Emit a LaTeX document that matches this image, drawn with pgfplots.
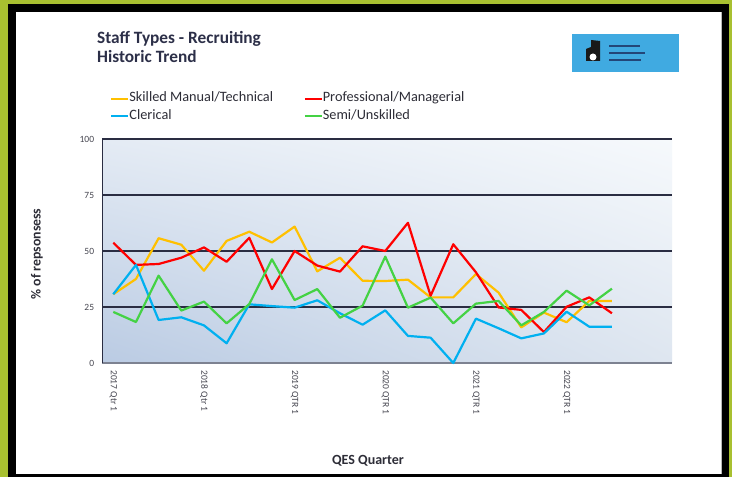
\documentclass[border=0pt]{standalone}
\usepackage{pgfplots}
\pgfplotsset{compat=1.18}
\usetikzlibrary{shadings}
\usepackage{fontspec}
\setmainfont{Carlito}
\definecolor{olivebar}{RGB}{168,192,48}
\definecolor{navy}{RGB}{42,45,66}
\definecolor{titlecol}{RGB}{44,47,72}
\definecolor{txt}{RGB}{45,45,55}
\definecolor{ticktxt}{RGB}{70,70,80}
\definecolor{cyel}{RGB}{255,192,0}
\definecolor{cred}{RGB}{255,0,0}
\definecolor{cblue}{RGB}{0,176,240}
\definecolor{cgreen}{RGB}{68,210,68}
\definecolor{logoblue}{RGB}{64,170,225}
\definecolor{logotext}{RGB}{35,70,120}
\definecolor{bottomline}{RGB}{125,130,145}
\definecolor{bgll}{RGB}{186,203,227}
\definecolor{bgul}{RGB}{228,235,244}
\definecolor{bgur}{RGB}{246,249,252}
\definecolor{bglr}{RGB}{222,230,240}

\pgfplotstableread{
x skilled prof clerical semi
0 30.7 53.7 30.7 22.8
1 37.5 43.8 43.8 18.3
2 55.7 44.2 19.2 39.0
3 52.8 47.0 20.4 23.4
4 41.2 51.6 16.8 27.4
5 54.5 45.2 8.8 17.7
6 58.6 55.9 26.2 26.3
7 53.8 33.0 25.4 46.3
8 60.9 50.0 24.7 28.1
9 40.9 43.5 28.0 33.0
10 47.0 40.8 22.2 20.2
11 36.7 52.1 17.1 25.6
12 36.6 50.0 23.5 47.5
13 37.2 62.6 12.1 24.7
14 29.3 30.0 11.3 29.2
15 29.3 53.0 0.0 17.7
16 39.7 40.5 19.8 26.5
17 31.4 24.8 15.5 27.7
18 15.9 23.7 11.0 16.8
19 22.5 13.8 13.2 22.8
20 18.2 25.1 22.9 32.3
21 27.7 29.3 16.2 25.7
22 27.7 22.2 16.2 33.2
}\datatable

\begin{document}
\begin{tikzpicture}[x=1pt,y=1pt]
\fill[olivebar] (0,0) rectangle (732,477);
\fill[black] (8.3,0) rectangle (729.3,472.7);
\fill[white] (16,2.7) rectangle (722,465);
\draw[gray!55, line width=1pt] (721.5,2.7) -- (721.5,465);
% logo
\fill[logoblue] (572,405) rectangle (679,443);
\fill[black!90] (586,416) -- (600,416) -- (600,436) -- (591,437) -- (591,430) -- (586,428) -- cycle;
\fill[white] (593,420) circle (3.5);
\draw[logotext, line width=1.1pt] (609,431) -- (640,431);
\draw[logotext, line width=1.1pt] (609,424) -- (645,424);
\draw[logotext, line width=1.1pt] (609,417) -- (641,417);
% titles
\node[anchor=base west, inner sep=0pt, font=\bfseries\fontsize{17.3}{20}\selectfont, text=titlecol] at (97,433.7) {Staff Types - Recruiting};
\node[anchor=base west, inner sep=0pt, font=\bfseries\fontsize{17.3}{20}\selectfont, text=titlecol] at (97,414.3) {Historic Trend};
\node[rotate=90, inner sep=0pt, font=\bfseries\fontsize{13.8}{16}\selectfont, text=txt] at (37,223) {\% of repsonsess};
\node[inner sep=0pt, font=\bfseries\fontsize{14}{16}\selectfont, text=txt] at (368,16) {QES Quarter};

\begin{axis}[
  at={(102.3pt,114pt)}, anchor=south west,
  scale only axis, width=569.7pt, height=224pt,
  xmin=-0.485, xmax=24.65, ymin=0, ymax=100,
  clip=false,
  axis background/.style={shade,
    lower left=bgll, upper left=bgul, upper right=bgur, lower right=bglr},
  ymajorgrids, grid style={navy, line width=1.6pt},
  ytick={0,25,50,75,100},
  xtick={0,4,8,12,16,20},
  xticklabels={2017 Qtr 1,2018 Qtr 1,2019 QTR 1,2020 QTR 1,2021 QTR 1,2022 QTR 1},
  major tick length=0pt,
  axis x line*=bottom, axis y line*=left,
  x axis line style={draw=bottomline, line width=1.8pt, -},
  y axis line style={draw=navy, line width=1.6pt, -},
  /pgf/number format/assume math mode=true,
  tick label style={font=\fontsize{9.5}{11}\selectfont, text=ticktxt},
  xticklabel style={rotate=-90, anchor=west, inner sep=0pt},
  yticklabel style={anchor=east, inner sep=0pt},
  xticklabel shift=7pt, yticklabel shift=8pt,
  legend columns=2,
  legend style={at={(0.0135,1.220)}, anchor=north west, draw=none, fill=none,
    inner sep=0pt, font=\fontsize{14.3}{17}\selectfont, text=txt,
    nodes={inner sep=0pt, text height=12pt, text depth=5.6pt, anchor=west},
    /tikz/every even column/.append style={column sep=30.5pt}},
  legend image code/.code={\draw[#1, line width=2.2pt] (0pt,0pt) -- (17pt,0pt);},
  every axis plot/.append style={line width=2.2pt, mark=none, line join=round},
]
\addplot[cyel] table[x=x, y=skilled] {\datatable};
\addlegendentry{Skilled Manual/Technical}
\addplot[cred] table[x=x, y=prof] {\datatable};
\addlegendentry{Professional/Managerial}
\addplot[cblue] table[x=x, y=clerical] {\datatable};
\addlegendentry{Clerical}
\addplot[cgreen] table[x=x, y=semi] {\datatable};
\addlegendentry{Semi/Unskilled}
\end{axis}
\pgfresetboundingbox
\path (0,0) rectangle (732,477);
\end{tikzpicture}
\end{document}
